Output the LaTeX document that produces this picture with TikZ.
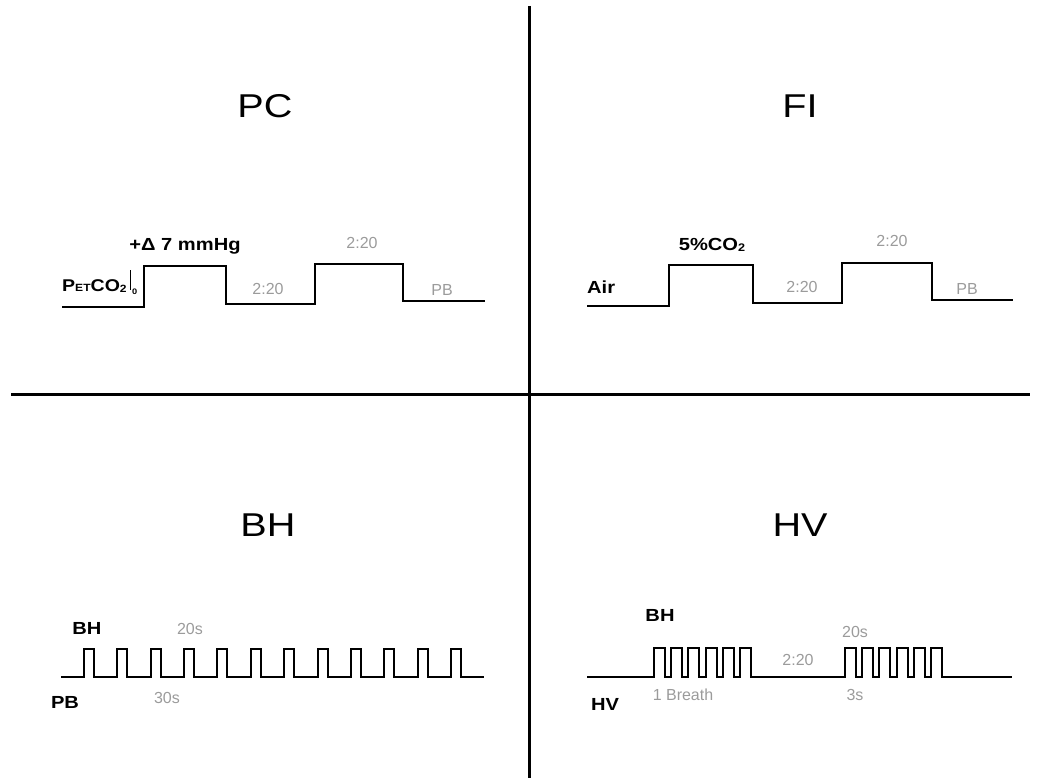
\documentclass[tikz,border=0pt]{standalone}
\usepackage{fontspec}
\setmainfont{Liberation Sans}
\newfontfamily\titlefont{Liberation Sans}[FakeStretch=1.2]
\newfontfamily\labfont{Liberation Sans}[FakeStretch=1.15]
\definecolor{lblgray}{RGB}{155,155,155}
\tikzset{
  ptitle/.style={font=\titlefont\fontsize{33}{36}\selectfont, inner sep=0pt, anchor=base},
  blab/.style={font=\labfont\bfseries\fontsize{17.5}{19}\selectfont, inner sep=0pt, anchor=base},
  glab/.style={font=\fontsize{16}{18}\selectfont, text=lblgray, inner sep=0pt, anchor=base},
  divider/.style={line width=3pt},
  wave/.style={line width=2pt, line join=miter},
}
\newcommand{\smsub}[1]{{\fontsize{11}{11}\selectfont\raisebox{-1.5pt}{#1}}}
\begin{document}
\begin{tikzpicture}[x=1pt,y=-1pt]
\useasboundingbox (0,0) rectangle (1041,778);
% dividers
\draw[divider] (529,6) -- (529,778);
\draw[divider] (11,394) -- (1030,394);

% titles
\node[ptitle] (tPC) at (265,118) {PC};
\node[ptitle] (tFI) at (800,118) {FI};
\node[ptitle] (tBH) at (268,536) {BH};
\node[ptitle] (tHV) at (800,536) {HV};

% ---- PC panel
\draw[wave] (62,307) -- (144,307) -- (144,266) -- (226,266) -- (226,304) -- (315,304) -- (315,264) -- (403,264) -- (403,301) -- (485,301);
\node[blab] (pcD) at (185,250) {+Δ 7 mmHg};
\node[blab, font=\labfont\bfseries\fontsize{17}{19}\selectfont, anchor=base west] (pcP) at (62,291) {P{\fontsize{10.5}{11}\selectfont ET}CO{\fontsize{10.5}{11}\selectfont\raisebox{-1.5pt}{2}}};
\draw[line width=0.7pt] (130,270) -- (130,290);
\node[font=\labfont\bfseries\fontsize{8}{8}\selectfont, inner sep=0pt, anchor=base west] (pc0) at (132,294) {0};
\node[glab] (pcT1) at (362,248) {2:20};
\node[glab] (pcT2) at (268,294) {2:20};
\node[glab] (pcPB) at (442,295) {PB};

% ---- FI panel
\draw[wave] (587,306) -- (669,306) -- (669,265) -- (753,265) -- (753,303) -- (842,303) -- (842,263) -- (932,263) -- (932,300) -- (1013,300);
\node[blab, anchor=base west] (fiAir) at (587,293) {Air};
\node[blab] (fiCO) at (712,250) {5\%CO\smsub{2}};
\node[glab] (fiT1) at (892,246) {2:20};
\node[glab] (fiT2) at (802,292) {2:20};
\node[glab] (fiPB) at (967,294) {PB};

% ---- BH panel
\draw[wave] (61,677) foreach \k in {0,...,11} { -- ({int(84.3+33.4*\k)},677) -- ++(0,-28) -- ++(10,0) -- ++(0,28) } -- (484,677);
\node[blab] (bhBH) at (87,634) {BH};
\node[blab] (bhPB) at (65,708) {PB};
\node[glab] (bh20) at (190,634) {20s};
\node[glab] (bh30) at (167,703) {30s};

% ---- HV panel
\draw[wave] (587,677)
  foreach \k in {0,...,5} { -- ({int(654+17.4*\k)},677) -- ++(0,-29) -- ++(11,0) -- ++(0,29) }
  foreach \k in {0,...,5} { -- ({int(845+17.4*\k)},677) -- ++(0,-29) -- ++(11,0) -- ++(0,29) }
  -- (1012,677);
\node[blab] (hvBH) at (660,621) {BH};
\node[blab] (hvHV) at (605,710) {HV};
\node[glab] (hv20) at (855,637) {20s};
\node[glab] (hvT) at (798,665) {2:20};
\node[glab] (hvB) at (683,700) {1 Breath};
\node[glab] (hv3) at (855,700) {3s};
\end{tikzpicture}
\end{document}
